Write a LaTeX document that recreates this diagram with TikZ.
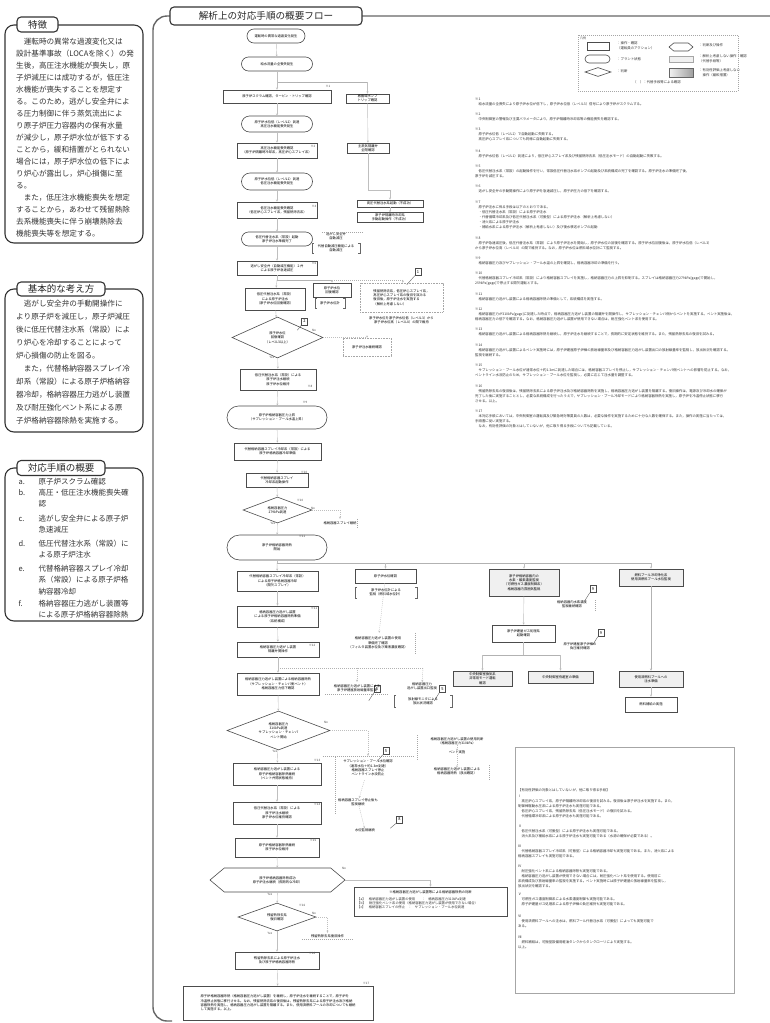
\documentclass[tikz,border=0pt]{standalone}
\usepackage{fontspec}
\setmainfont{Noto Sans CJK JP}
\usetikzlibrary{shapes.geometric,shapes.symbols,arrows.meta}
\XeTeXlinebreaklocale "ja"
\XeTeXlinebreakskip=0pt plus 1pt
\newcommand\mybrk[1]{%
  \draw[brkline] ([xshift=2pt]#1.north west) -- (#1.north west) -- (#1.south west) -- ([xshift=2pt]#1.south west);
  \draw[brkline] ([xshift=-2pt]#1.north east) -- (#1.north east) -- (#1.south east) -- ([xshift=-2pt]#1.south east);}
\newcommand\itm[1]{\makebox[20pt][l]{#1}}
\newcommand\itc{\hspace*{20pt}}
\tikzset{
  every node/.style={inner sep=0pt, align=center},
  ft/.style={font=\fontsize{3.3}{4.4}\selectfont},
  box/.style={ft, draw=black!70, line width=0.6pt, rectangle},
  shbox/.style={box, fill=gray!12},
  oval/.style={ft, draw=black!70, line width=0.6pt, rectangle, rounded corners=#1},
  oval/.default=7pt,
  dec/.style={ft, draw=black!70, line width=0.6pt, diamond, aspect=2.4},
  hexa/.style={ft, draw=black!70, line width=0.6pt, signal, signal to=east and west, signal pointer angle=80},
  dotbox/.style={ft, draw=gray!70, line width=0.5pt, dash pattern=on 0.8pt off 0.8pt},
  dline/.style={draw=gray!70, line width=0.5pt, dash pattern=on 1pt off 1pt},
  brkline/.style={draw=black!60, line width=0.5pt},
  conn/.style={draw=gray!50, line width=0.4pt, -{Stealth[length=2.2pt,width=2pt]}},
  dconn/.style={conn, dash pattern=on 1pt off 1pt},
  plain/.style={draw=gray!50, line width=0.4pt},
  bline/.style={draw=gray!60, line width=0.8pt},
  dbline/.style={draw=gray!60, line width=0.8pt, dash pattern=on 1pt off 1pt},
  lab/.style={font=\fontsize{3}{3.5}\selectfont, text=black!70},
  callout/.style={draw=black!70, line width=0.4pt, font=\fontsize{4}{4}\selectfont, minimum width=6pt, minimum height=7pt},
  cline/.style={draw=black!60, line width=0.4pt},
  note/.style={anchor=north west, align=left, font=\fontsize{3.4}{5}\selectfont, text=black!80},
  panel/.style={draw=black!80, line width=1.1pt, rounded corners=9pt},
  ptab/.style={draw=black!80, line width=1.1pt, rounded corners=4pt, fill=white, font=\fontsize{9.5}{11}\selectfont, text=black!85},
  ptxt/.style={anchor=north west, align=left, font=\fontsize{7.6}{12}\selectfont, text=black!80},
  frame/.style={draw=black!60, line width=1.4pt, rounded corners=14pt}
}
\begin{document}
\begin{tikzpicture}[x=1pt,y=-1pt]
\useasboundingbox (0,0) rectangle (769,1023);
\fill[white] (0,0) rectangle (769,1023);

% ---------------- left panels ----------------
\draw[panel] (5,25) rectangle (143,243);
\node[ptab, minimum width=41pt, minimum height=15pt] (tab1) at (37.5,24.5) {特徴};
\node[ptxt] (txt1) at (16,37.5) {　運転時の異常な過渡変化又は\\設計基準事故（LOCAを除く）の発\\生後，高圧注水機能が喪失し，原\\子炉減圧には成功するが，低圧注\\水機能が喪失することを想定す\\る。このため，逃がし安全弁によ\\る圧力制御に伴う蒸気流出によ\\り原子炉圧力容器内の保有水量\\が減少し，原子炉水位が低下する\\ことから，緩和措置がとられない\\場合には，原子炉水位の低下によ\\り炉心が露出し，炉心損傷に至\\る。\\　また，低圧注水機能喪失を想定\\することから，あわせて残留熱除\\去系機能喪失に伴う崩壊熱除去\\機能喪失等を想定する。};

\draw[panel] (5,289) rectangle (143,432);
\node[ptab, minimum width=88pt, minimum height=14pt] (tab2) at (61,289) {基本的な考え方};
\node[ptxt, font=\fontsize{7.6}{13}\selectfont] (txt2) at (16,299.5) {　逃がし安全弁の手動開操作に\\より原子炉を減圧し，原子炉減圧\\後に低圧代替注水系（常設）によ\\り炉心を冷却することによって\\炉心損傷の防止を図る。\\　また，代替格納容器スプレイ冷\\却系（常設）による原子炉格納容\\器冷却，格納容器圧力逃がし装置\\及び耐圧強化ベント系による原\\子炉格納容器除熱を実施する。};

\draw[panel] (5,468) rectangle (143,621);
\node[ptab, minimum width=88pt, minimum height=15pt] (tab3) at (61,468) {対応手順の概要};
\begin{scope}[every node/.style={ptxt, font=\fontsize{7.5}{11.4}\selectfont}]
\node (ia) at (15,474.5) {\itm{a.}原子炉スクラム確認};
\node (ib) at (15,485.5) {\itm{b.}高圧・低圧注水機能喪失確\\\itc 認};
\node (ic) at (15,511.5) {\itm{c.}逃がし安全弁による原子炉\\\itc 急速減圧};
\node (id) at (15,536.5) {\itm{d.}低圧代替注水系（常設）に\\\itc よる原子炉注水};
\node (ie) at (15,561.5) {\itm{e.}代替格納容器スプレイ冷却\\\itc 系（常設）による原子炉格\\\itc 納容器冷却};
\node (if) at (15,596.5) {\itm{f.}格納容器圧力逃がし装置等\\\itc による原子炉格納容器除熱};
\end{scope}

% ---------------- main frame ----------------
\draw[frame] (780,16) -- (153,16) -- (153,1021) -- (172,1021);
\node[ptab, font=\fontsize{9.6}{11}\selectfont, minimum width=192pt, minimum height=18pt] (ttl) at (266,16) {解析上の対応手順の概要フロー};

% ---------------- legend ----------------
\draw[dline] (578,35) rectangle (738,91);
\node[lab] (lg0) at (583,38) {凡例};
\node[box, minimum width=22pt, minimum height=8pt] (lg1) at (598,46) {};
\node[oval=4pt, minimum width=25pt, minimum height=8pt] (lg2) at (597.5,59) {};
\node[dec, minimum width=26pt, minimum height=9pt] (lg3) at (598,72) {};
\node[note] (lgt1) at (617,41.5) {：操作・確認\\（運転員のアクション）};
\node[note] (lgt2) at (617,57) {：プラント状態};
\node[note] (lgt3) at (617,69) {：判断};
\node[hexa, minimum width=24pt, minimum height=8pt] (lg4) at (681,47) {};
\node[shbox, draw=gray!70, minimum width=24pt, minimum height=6pt] (lg5) at (681,59.5) {};
\node[draw=black!60, line width=0.5pt, left color=gray!10, right color=gray!75, minimum width=24pt, minimum height=9pt] (lg6) at (681,72.5) {};
\node[note] (lgt4) at (699,43) {：判断及び操作};
\node[note] (lgt5) at (699,54) {：解析上考慮しない操作・確認\\（代替手段等）};
\node[note] (lgt6) at (699,68) {：有効性評価上考慮しない\\　操作（緩和措置）};
\node[note] (lgt7) at (633,80.5) {（　）：代替手段等による確認};

% ---------------- notes ----------------
\node[note] (nt1) at (475,98) {※1\\　給水流量の全喪失により原子炉水位が低下し，原子炉水位低（レベル3）信号により原子炉がスクラムする。};
\node[note] (nt2) at (475,113) {※2\\　中央制御室の警報及び主要パラメータにより，原子炉隔離時冷却系等の機能喪失を確認する。};
\node[note] (nt3) at (475,128) {※3\\　原子炉水位低（レベル2）で自動起動に失敗する。\\　高圧炉心スプレイ系についても同様に自動起動に失敗する。};
\node[note] (nt4) at (475,150) {※4\\　原子炉水位低（レベル1）到達により，低圧炉心スプレイ系及び残留熱除去系（低圧注水モード）の自動起動に失敗する。};
\node[note] (nt5) at (475,165) {※5\\　低圧代替注水系（常設）の起動操作を行い，常設低圧代替注水系ポンプの起動及び系統構成の完了を確認する。原子炉注水の準備完了後，\\原子炉を減圧する。};
\node[note] (nt6) at (475,185) {※6\\　逃がし安全弁の手動開操作により原子炉を急速減圧し，原子炉圧力の低下を確認する。};
\node[note] (nt7) at (475,201) {※7\\　原子炉注水に係る手段は以下のとおりである。\\　・低圧代替注水系（常設）による原子炉注水\\　・代替循環冷却系及び低圧代替注水系（可搬型）による原子炉注水（解析上考慮しない）\\　・消火系による原子炉注水\\　・補給水系による原子炉注水（解析上考慮しない）及び復水移送ポンプの起動};
\node[note] (nt8) at (475,237) {※8\\　原子炉急速減圧後，低圧代替注水系（常設）により原子炉注水を開始し，原子炉水位の回復を確認する。原子炉水位回復後は，原子炉水位低（レベル3）\\から原子炉水位高（レベル8）の間で維持する。なお，原子炉水位は燃料域水位計にて監視する。};
\node[note] (nt9) at (475,257) {※9\\　格納容器圧力及びサプレッション・プール水温の上昇を確認し，格納容器冷却の準備を行う。};
\node[note] (nt10) at (475,272) {※10\\　代替格納容器スプレイ冷却系（常設）により格納容器スプレイを実施し，格納容器圧力の上昇を抑制する。スプレイは格納容器圧力279kPa[gage]で開始し，\\259kPa[gage]で停止する間欠運転とする。};
\node[note] (nt11) at (475,293) {※11\\　格納容器圧力逃がし装置による格納容器除熱の準備として，系統構成を実施する。};
\node[note] (nt12) at (475,308) {※12\\　格納容器圧力が310kPa[gage]に到達した時点で，格納容器圧力逃がし装置の隔離弁を開操作し，サプレッション・チェンバ側からベントを実施する。ベント実施後は，\\格納容器圧力の低下を確認する。なお，格納容器圧力逃がし装置が使用できない場合は，耐圧強化ベント系を使用する。};
\node[note] (nt13) at (475,328) {※13\\　格納容器圧力逃がし装置による格納容器除熱を継続し，原子炉注水を継続することで，長期的に安定状態を維持する。また，残留熱除去系の復旧を試みる。};
\node[note] (nt14) at (475,344) {※14\\　格納容器圧力逃がし装置によるベント実施時には，原子炉建屋原子炉棟の放射線量率及び格納容器圧力逃がし装置出口の放射線量率を監視し，放出状況を確認する。\\監視を継続する。};
\node[note] (nt15) at (475,364) {※15\\　サプレッション・プール水位が通常水位＋約1.3mに到達した場合には，格納容器スプレイを停止し，サプレッション・チェンバ側ベントへの影響を防止する。なお，\\ベントライン水没防止のため，サプレッション・プール水位を監視し，必要に応じて注水量を調整する。};
\node[note] (nt16) at (475,385) {※16\\　残留熱除去系の復旧後は，残留熱除去系による原子炉注水及び格納容器除熱を実施し，格納容器圧力逃がし装置を隔離する。復旧操作は，電源及び冷却水の確保が\\完了した後に実施することとし，必要な系統構成を行ったうえで，サプレッション・プール冷却モードにより格納容器除熱を実施し，原子炉を冷温停止状態に移行\\させる。以上。};
\node[note] (nt17) at (475,410) {※17\\　本対応手順においては，中央制御室の運転員及び緊急時対策要員の人数は，必要な操作を実施するために十分な人数を確保する。また，操作の実施に当たっては，\\手順書に従い実施する。\\　なお，有効性評価の対象とはしていないが，他に取り得る手段についても記載している。};

% ---------------- main flow ----------------
\node[oval, minimum width=58pt, minimum height=14pt] (n1) at (276,36) {運転時の異常な過渡変化発生};
\node[oval, minimum width=71pt, minimum height=14pt] (n2) at (277,64) {給水流量の全喪失発生};
\coordinate (b1) at (277,82);
\coordinate (b1r) at (367.5,82);
\node[box, minimum width=108pt, minimum height=13pt] (n3) at (277,96.5) {原子炉スクラム確認，タービン・トリップ確認};
\node[lab] (l3) at (328,86) {※1};
\node[box, minimum width=43pt, minimum height=9pt] (n3r) at (367.5,98.5) {再循環ポンプ\\トリップ確認};
\node[oval=8pt, minimum width=71pt, minimum height=16pt] (n4) at (277,124) {原子炉水位低（レベル2）到達\\高圧注水機能喪失発生};
\node[box, minimum width=80pt, minimum height=15pt] (n5) at (277,150.5) {高圧注水機能喪失確認\\（原子炉隔離時冷却系，高圧炉心スプレイ系）};
\node[lab] (l5) at (313,146) {※2};
\node[box, minimum width=42pt, minimum height=10pt] (n5r) at (368,148) {主蒸気隔離弁\\全閉確認};
\node[oval=8.5pt, minimum width=71pt, minimum height=17pt] (n6) at (277,181.5) {原子炉水位低（レベル1）到達\\低圧注水機能喪失発生};
\node[box, minimum width=80pt, minimum height=16pt] (n7) at (277,210) {低圧注水機能喪失確認\\（低圧炉心スプレイ系，残留熱除去系）};
\node[lab] (l7) at (314,206) {※4};
\coordinate (k1) at (390,190);
\node[box, minimum width=66pt, minimum height=7pt] (n7r1) at (390,203.5) {高圧代替注水系起動（不成功）};
\node[box, minimum width=66pt, minimum height=9.5pt] (n7r2) at (390,217.5) {原子炉隔離時冷却系\\手動起動操作（不成功）};
\node[oval, minimum width=71pt, minimum height=14pt] (n8) at (277,239) {低圧代替注水系（常設）起動\\原子炉注水準備完了};
\node[ft] (n8s) at (336,236) {逃がし安全弁\\自動減圧};
\draw[dline] (n8s.north west) ++(-4,0) -- ++(42,0);
\node[ft, minimum width=48pt, minimum height=10pt] (n8b) at (336,248) {代替自動減圧機能による\\自動減圧};
\mybrk{n8b}
\node[box, minimum width=80pt, minimum height=14pt] (n9) at (277,268) {逃がし安全弁（自動減圧機能）２弁\\による原子炉急速減圧};
\node[lab] (l9) at (314,263) {※6};
\coordinate (b2) at (277,280);
\coordinate (b2m) at (332,280);
\coordinate (b2r) at (403,280);
\node[box, minimum width=60pt, minimum height=22pt] (n10) at (275,299) {低圧代替注水系（常設）\\による原子炉注水\\（原子炉水位回復確認）};
\node[box, minimum width=38pt, minimum height=14pt] (n10r) at (332,290) {原子炉水位\\回復確認};
\node[ft, minimum width=30pt, minimum height=10pt] (n10b) at (330,303) {原子炉水位計};
\mybrk{n10b}
\node[dotbox, minimum width=83pt, minimum height=29pt, align=left] (n10d) at (401.5,297.5) {残留熱除去系，低圧炉心スプレイ系，\\高圧炉心スプレイ系の復旧を試みる\\復旧後，原子炉注水を実施する\\（解析上考慮しない）};
\node[callout] (co1) at (418,272) {1};
\draw[cline] (co1.south west) -- ++(-8,9);
\node[ft] (n10t) at (401.5,320) {原子炉水位を原子炉水位低（レベル3）から\\原子炉水位高（レベル8）の間で維持};
\node[dec, minimum width=91pt, minimum height=41pt] (n11) at (277.5,337.5) {原子炉水位\\回復確認\\（レベル3以上）};
\node[callout] (co2) at (304.5,321.5) {2};
\draw[cline] (co2.south west) -- ++(-4,5);
\node[lab] (l11n) at (314,330) {No};
\node[lab] (l11y) at (272,357) {Yes};
\node[dotbox, minimum width=48pt, minimum height=18pt] (n11r) at (367,347) {原子炉注水継続確認};
\node[box, minimum width=76pt, minimum height=21pt] (n12) at (278,379.5) {低圧代替注水系（常設）による\\原子炉注水継続\\原子炉水位維持};
\node[lab] (l12) at (310,386) {※8};
\node[oval=11.5pt, minimum width=100pt, minimum height=23pt] (n13) at (277,417.5) {原子炉格納容器圧力上昇\\（サプレッション・プール水温上昇）};
\node[lab] (l13) at (305,402) {※9};
\node[box, minimum width=87pt, minimum height=17pt] (n14) at (277.5,451.5) {代替格納容器スプレイ冷却系（常設）による\\原子炉格納容器冷却準備};
\node[box, minimum width=62pt, minimum height=14pt] (n15) at (277,480) {代替格納容器スプレイ\\冷却系起動操作};
\node[lab] (l15) at (304,472) {※10};
\node[dec, minimum width=69pt, minimum height=26pt] (n16) at (277.5,510) {格納容器圧力\\279kPa到達};
\node[lab] (l16a) at (300,500) {※10};
\node[lab] (l16n) at (313,508) {No};
\node[lab] (l16y) at (273,523) {Yes};
\node[ft, minimum width=34pt, minimum height=9pt] (n16r) at (340,523.5) {格納容器スプレイ継続};
\draw[dline] (n16r.north east) -- (n16r.south east);
\node[oval=12.5pt, minimum width=100pt, minimum height=25pt] (n17) at (277,547.5) {原子炉格納容器除熱\\開始};
\node[lab] (l17) at (302,536) {※11};
\coordinate (b3) at (277,563);
\coordinate (b3a) at (385.5,563);
\coordinate (b3b) at (524,563);
\coordinate (b3r) at (651,563);

% column 1
\node[box, minimum width=81pt, minimum height=20pt] (c1a) at (277.5,581) {代替格納容器スプレイ冷却系（常設）\\による原子炉格納容器冷却\\（間欠スプレイ）};
\node[box, minimum width=81pt, minimum height=21pt] (c1b) at (277.5,616.5) {格納容器圧力逃がし装置\\による原子炉格納容器除熱準備\\（系統構成）};
\node[lab] (l1b) at (314,608) {※11};
\node[box, minimum width=82pt, minimum height=15pt] (c1c) at (278,649.5) {格納容器圧力逃がし装置\\隔離弁開操作};
\node[lab] (l1c) at (312,645) {※12};
\coordinate (b4) at (278,668);
\coordinate (b4m) at (357,668);
\coordinate (b4r) at (423,668);
\node[box, minimum width=82pt, minimum height=22pt] (c1d) at (278,684) {格納容器圧力逃がし装置による格納容器除熱\\（サプレッション・チェンバ側ベント）\\格納容器圧力低下確認};
\node[callout] (co5a) at (377,689) {5};
\draw[cline] (co5a.south west) -- ++(-5,8);
\node[callout] (co5b) at (442.5,689) {5};
\draw[cline] (co5b.south west) -- ++(-5,8);
\node[dec, minimum width=103pt, minimum height=39pt] (c1e) at (278.5,730.5) {格納容器圧力\\310kPa到達\\サプレッション・チェンバ\\ベント開始};
\node[lab] (l1en) at (326,722) {No};
\node[lab] (l1ey) at (275,751) {Yes};
\node[box, minimum width=88pt, minimum height=22pt] (c1f) at (277,774) {格納容器圧力逃がし装置による\\原子炉格納容器除熱継続\\（ベント弁開状態維持）};
\node[lab] (l1f) at (317,760) {※13};
\node[box, minimum width=88pt, minimum height=22pt] (c1g) at (277,813) {低圧代替注水系（常設）による\\原子炉注水継続\\原子炉水位維持確認};
\node[lab] (l1g) at (317,804) {※14};
\node[box, minimum width=84pt, minimum height=19pt] (c1h) at (277,847.5) {原子炉格納容器除熱継続\\原子炉水位維持};
\node[lab] (l1h) at (313,840) {※15};
\node[hexa, minimum width=135pt, minimum height=24pt] (c1i) at (277.5,880) {原子炉格納容器除熱成功\\原子炉注水継続（長期的な冷却）};
\node[lab] (l1in) at (344,868) {No};
\node[lab] (l1iy) at (270,894) {Yes};
\node[box, minimum width=153pt, minimum height=29pt] (c1ir) at (430.5,901.5) {};
\node[ft] (c1irh) at (430.5,892) {※格納容器圧力逃がし装置等による格納容器除熱の判断};
\node[note, font=\fontsize{3.3}{4.4}\selectfont] (c1irt) at (357,897) {【a】　格納容器圧力逃がし装置の使用　　：　格納容器圧力310kPa到達\\【b】　耐圧強化ベント系の使用（格納容器圧力逃がし装置が使用できない場合）\\【c】　格納容器スプレイの停止　：　サプレッション・プール水位到達};
\node[dec, minimum width=78pt, minimum height=28pt] (c1j) at (277,917) {残留熱除去系\\復旧確認};
\node[lab] (l1j) at (302,905) {※16};
\node[lab] (l1jn) at (314,913) {No};
\node[lab] (l1jy) at (270,933) {Yes};
\node[ft, minimum width=51pt, minimum height=6pt] (c1jr) at (327.5,936) {残留熱除去系復旧操作};
\draw[dline] (c1jr.south west) -- (c1jr.south east);
\node[box, minimum width=84pt, minimum height=17pt] (c1k) at (277,960.5) {残留熱除去系による原子炉注水\\及び原子炉格納容器除熱};
\node[lab] (l1k) at (312,953) {※16};
\node[box, minimum width=190pt, minimum height=34pt, align=left] (c1l) at (278,1003) {原子炉格納容器除熱（格納容器圧力逃がし装置）を継続し，原子炉注水を継続することで，原子炉を\\冷温停止状態に移行させる。なお，残留熱除去系の復旧後は，残留熱除去系による原子炉注水及び格納\\容器除熱を実施し，格納容器圧力逃がし装置を隔離する。また，使用済燃料プールの冷却についても継続\\して実施する。以上。};
\node[lab] (l1l) at (366,983) {※17};

% column 2
\node[box, minimum width=61pt, minimum height=14pt] (c2a) at (385.5,576) {原子炉水位確認};
\node[ft, minimum width=62pt, minimum height=11pt] (c2ab) at (386,592.5) {原子炉水位計による\\監視（燃料域水位計）};
\mybrk{c2ab}
\node[ft, minimum width=75pt, minimum height=20pt] (c2b) at (378,643) {格納容器圧力逃がし装置の使用\\準備完了確認\\（フィルタ装置水位及び薬液濃度確認）};
\draw[dline] (c2b.north east) -- (c2b.south east);
\node[ft, minimum width=63pt, minimum height=12pt] (c2c) at (357,688) {格納容器圧力逃がし装置による\\原子炉建屋放射線量率監視};
\draw[dline] (c2c.south west) -- (c2c.south east);
\node[ft] (c2d) at (422,686) {格納容器圧力\\逃がし装置出口監視};
\node[ft, minimum width=58pt, minimum height=12pt] (c2db) at (423,701) {放射線モニタによる\\放出状況確認};
\mybrk{c2db}
\node[ft, minimum width=90pt, minimum height=24pt] (c2f) at (368,768) {サプレッション・プール水位確認\\（通常水位＋約1.3m到達）\\格納容器スプレイ停止\\ベントライン水没防止};
\draw[dline] (c2f.north west) -- (c2f.north east);
\draw[dline] (335,757) -- (335,815);
\node[callout] (co6) at (386,751) {5};
\draw[cline] (co6.south west) -- ++(-5,6);
\node[ft] (c2g) at (358,802) {格納容器スプレイ停止後も\\監視継続};
\node[callout] (co8) at (399.5,819.5) {8};
\draw[cline] (co8.south west) -- ++(-6,5);
\node[ft] (c2h) at (365,830) {水位監視継続};
\node[ft] (c2e1) at (457,741) {格納容器圧力逃がし装置の使用判断\\（格納容器圧力310kPa）};
\node[ft] (c2e2) at (457,752.5) {ベント実施};
\node[ft] (c2e3) at (457,771.5) {格納容器圧力逃がし装置による\\格納容器除熱（放出確認）};
\draw[dline] (417,735) -- (417,760);
\draw[dline] (489,765) -- (489,780);

% column 3
\node[shbox, minimum width=70pt, minimum height=27pt] (c3a) at (524,582.5) {原子炉格納容器内の\\水素・酸素濃度監視\\（可燃性ガス濃度制御系）\\格納容器内雰囲気監視};
\node[callout] (co9) at (593,589) {9};
\draw[cline] (co9.south west) -- ++(-5,8);
\node[ft] (c3as) at (572,604) {格納容器内水素濃度\\監視継続確認};
\draw[dline] (595,600) -- (595,612);
\node[box, minimum width=63pt, minimum height=17pt] (c3b) at (523.5,633.5) {原子炉建屋ガス処理系\\起動確認};
\node[callout] (co10) at (601,633) {9};
\draw[cline] (co10.south west) -- ++(-5,8);
\node[ft] (c3bs) at (580,646) {原子炉建屋原子炉棟の\\負圧維持確認};
\coordinate (b5) at (523.5,655);
\coordinate (b5l) at (482.5,655);
\coordinate (b5r) at (560.5,655);
\node[shbox, minimum width=59pt, minimum height=15pt] (c3c) at (482.5,678.5) {中央制御室換気系\\非常用モード運転\\確認};
\node[shbox, minimum width=65pt, minimum height=12pt] (c3d) at (560.5,677) {中央制御室待避室の準備};

% column 4
\node[shbox, minimum width=64pt, minimum height=17pt] (c4a) at (651,577.5) {燃料プール冷却浄化系\\使用済燃料プール水位監視};
\node[shbox, minimum width=64pt, minimum height=16pt] (c4b) at (651,679) {使用済燃料プールへの\\注水準備};
\node[box, minimum width=52pt, minimum height=15pt] (c4c) at (651,704.5) {燃料補給の実施};

% big note box
\draw[draw=gray!70, line width=0.8pt] (515,747) rectangle (734,993);
\node[note] (bb0) at (518,788) {【有効性評価の対象とはしていないが，他に取り得る手段】};
\node[note] (bb1) at (518,795) {Ⅰ\\　高圧炉心スプレイ系，原子炉隔離時冷却系の復旧を試みる。復旧後は原子炉注水を実施する。また，\\制御棒駆動水圧系による原子炉注水も実施可能である。\\　低圧炉心スプレイ系，残留熱除去系（低圧注水モード）の復旧を試みる。\\　代替循環冷却系による原子炉注水も実施可能である。};
\node[note] (bb2) at (518,825) {Ⅱ\\　低圧代替注水系（可搬型）による原子炉注水も実施可能である。\\　消火系及び補給水系による原子炉注水も実施可能である（水源の確保が必要である）。};
\node[note] (bb3) at (518,845) {Ⅲ\\　代替格納容器スプレイ冷却系（可搬型）による格納容器冷却も実施可能である。また，消火系による\\格納容器スプレイも実施可能である。};
\node[note] (bb4) at (518,865) {Ⅳ\\　耐圧強化ベント系による格納容器除熱も実施可能である。\\　格納容器圧力逃がし装置が使用できない場合には，耐圧強化ベント系を使用する。使用前に\\系統構成及び放射線量率の監視を実施する。ベント実施時には原子炉建屋の放射線量率を監視し，\\放出状況を確認する。};
\node[note] (bb5) at (518,893) {Ⅴ\\　可燃性ガス濃度制御系による水素濃度制御も実施可能である。\\　原子炉建屋ガス処理系による原子炉棟の負圧維持も実施可能である。};
\node[note] (bb6) at (518,915) {Ⅵ\\　使用済燃料プールへの注水は，燃料プール代替注水系（可搬型）によっても実施可能で\\ある。};
\node[note] (bb7) at (518,936) {Ⅶ\\　燃料補給は，可搬型設備用軽油タンクからタンクローリにより実施する。\\以上。};

% ---------------- connectors ----------------
\draw[conn] (n1) -- (n2);
\draw[plain] (n2) -- (b1);
\draw[bline] (b1) -- (b1r);
\draw[conn] (b1) -- (n3);
\draw[conn] (b1r) -- (n3r);
\draw[conn] (n3) -- (n4);
\draw[conn] (n3r) -- (n5r);
\draw[conn] (n4) -- (n5);
\draw[plain] (n5r) |- (k1);
\draw[conn] (k1) -- (n7r1);
\draw[conn] (n7r1) -- (n7r2);
\draw[conn] (n5) -- (n6);
\draw[conn] (n6) -- (n7);
\draw[conn] (n7) -- (n8);
\draw[conn] (n8) -- (n9);
\draw[plain] (n9) -- (b2);
\draw[bline] (b2) -- (b2m);
\draw[dbline] (b2m) -- (b2r);
\draw[conn] (b2) -- (n10);
\draw[conn] (b2m) -- (n10r);
\draw[dconn] (b2r) -- (n10d);
\draw[conn] (n10) -- (n11);
\draw[dconn] (n11.east) -| (n11r.north);
\draw[conn] (n11) -- (n12);
\draw[conn] (n12) -- (n13);
\draw[conn] (n13) -- (n14);
\draw[conn] (n14) -- (n15);
\draw[conn] (n15) -- (n16);
\draw[dconn] (n16.east) -| (n16r.north);
\draw[conn] (n16) -- (n17);
\draw[plain] (n17) -- (b3);
\draw[bline] (b3) -- (b3r);
\draw[conn] (b3) -- (c1a);
\draw[conn] (b3a) -- (c2a);
\draw[conn] (b3b) -- (c3a);
\draw[conn] (b3r) -- (c4a);
\draw[conn] (c1a) -- (c1b);
\draw[conn] (c1b) -- (c1c);
\draw[plain] (c1c) -- (b4);
\draw[dbline] (b4) -- (b4r);
\draw[conn] (b4) -- (c1d);
\draw[dconn] (b4m) -- (c2c);
\draw[dconn] (b4r) -- (c2d);
\draw[conn] (c1d) -- (c1e);
\draw[conn] (c1e) -- (c1f);
\draw[dconn] (c1e.east) -| (c2f.north);
\draw[conn] (c1f) -- (c1g);
\draw[conn] (c1g) -- (c1h);
\draw[conn] (c1h) -- (c1i);
\draw[conn] (c1i.east) -| (c1ir.north);
\draw[conn] (c1i) -- (c1j);
\draw[dconn] (c1j.east) -| (c1jr.north);
\draw[conn] (c1j) -- (c1k);
\draw[conn] (c1k) -- (c1l);
\draw[dconn] (c2a) -- (c2b);
\draw[dconn] (c2f) -- (c2g);
\draw[dconn] (c2g) -- (c2h);
\draw[dconn] (c2e1) -- (c2e2);
\draw[dconn] (c2e2) -- (c2e3);
\draw[conn] (c3a) -- (c3b);
\draw[plain] (c3b) -- (b5);
\draw[bline] (b5l) -- (b5r);
\draw[conn] (b5l) -- (c3c);
\draw[conn] (b5r) -- (c3d);
\draw[bline, -{Stealth[length=2.2pt,width=2pt]}] (c4a) -- (c4b);
\draw[conn] (c4b) -- (c4c);
\end{tikzpicture}
\end{document}
